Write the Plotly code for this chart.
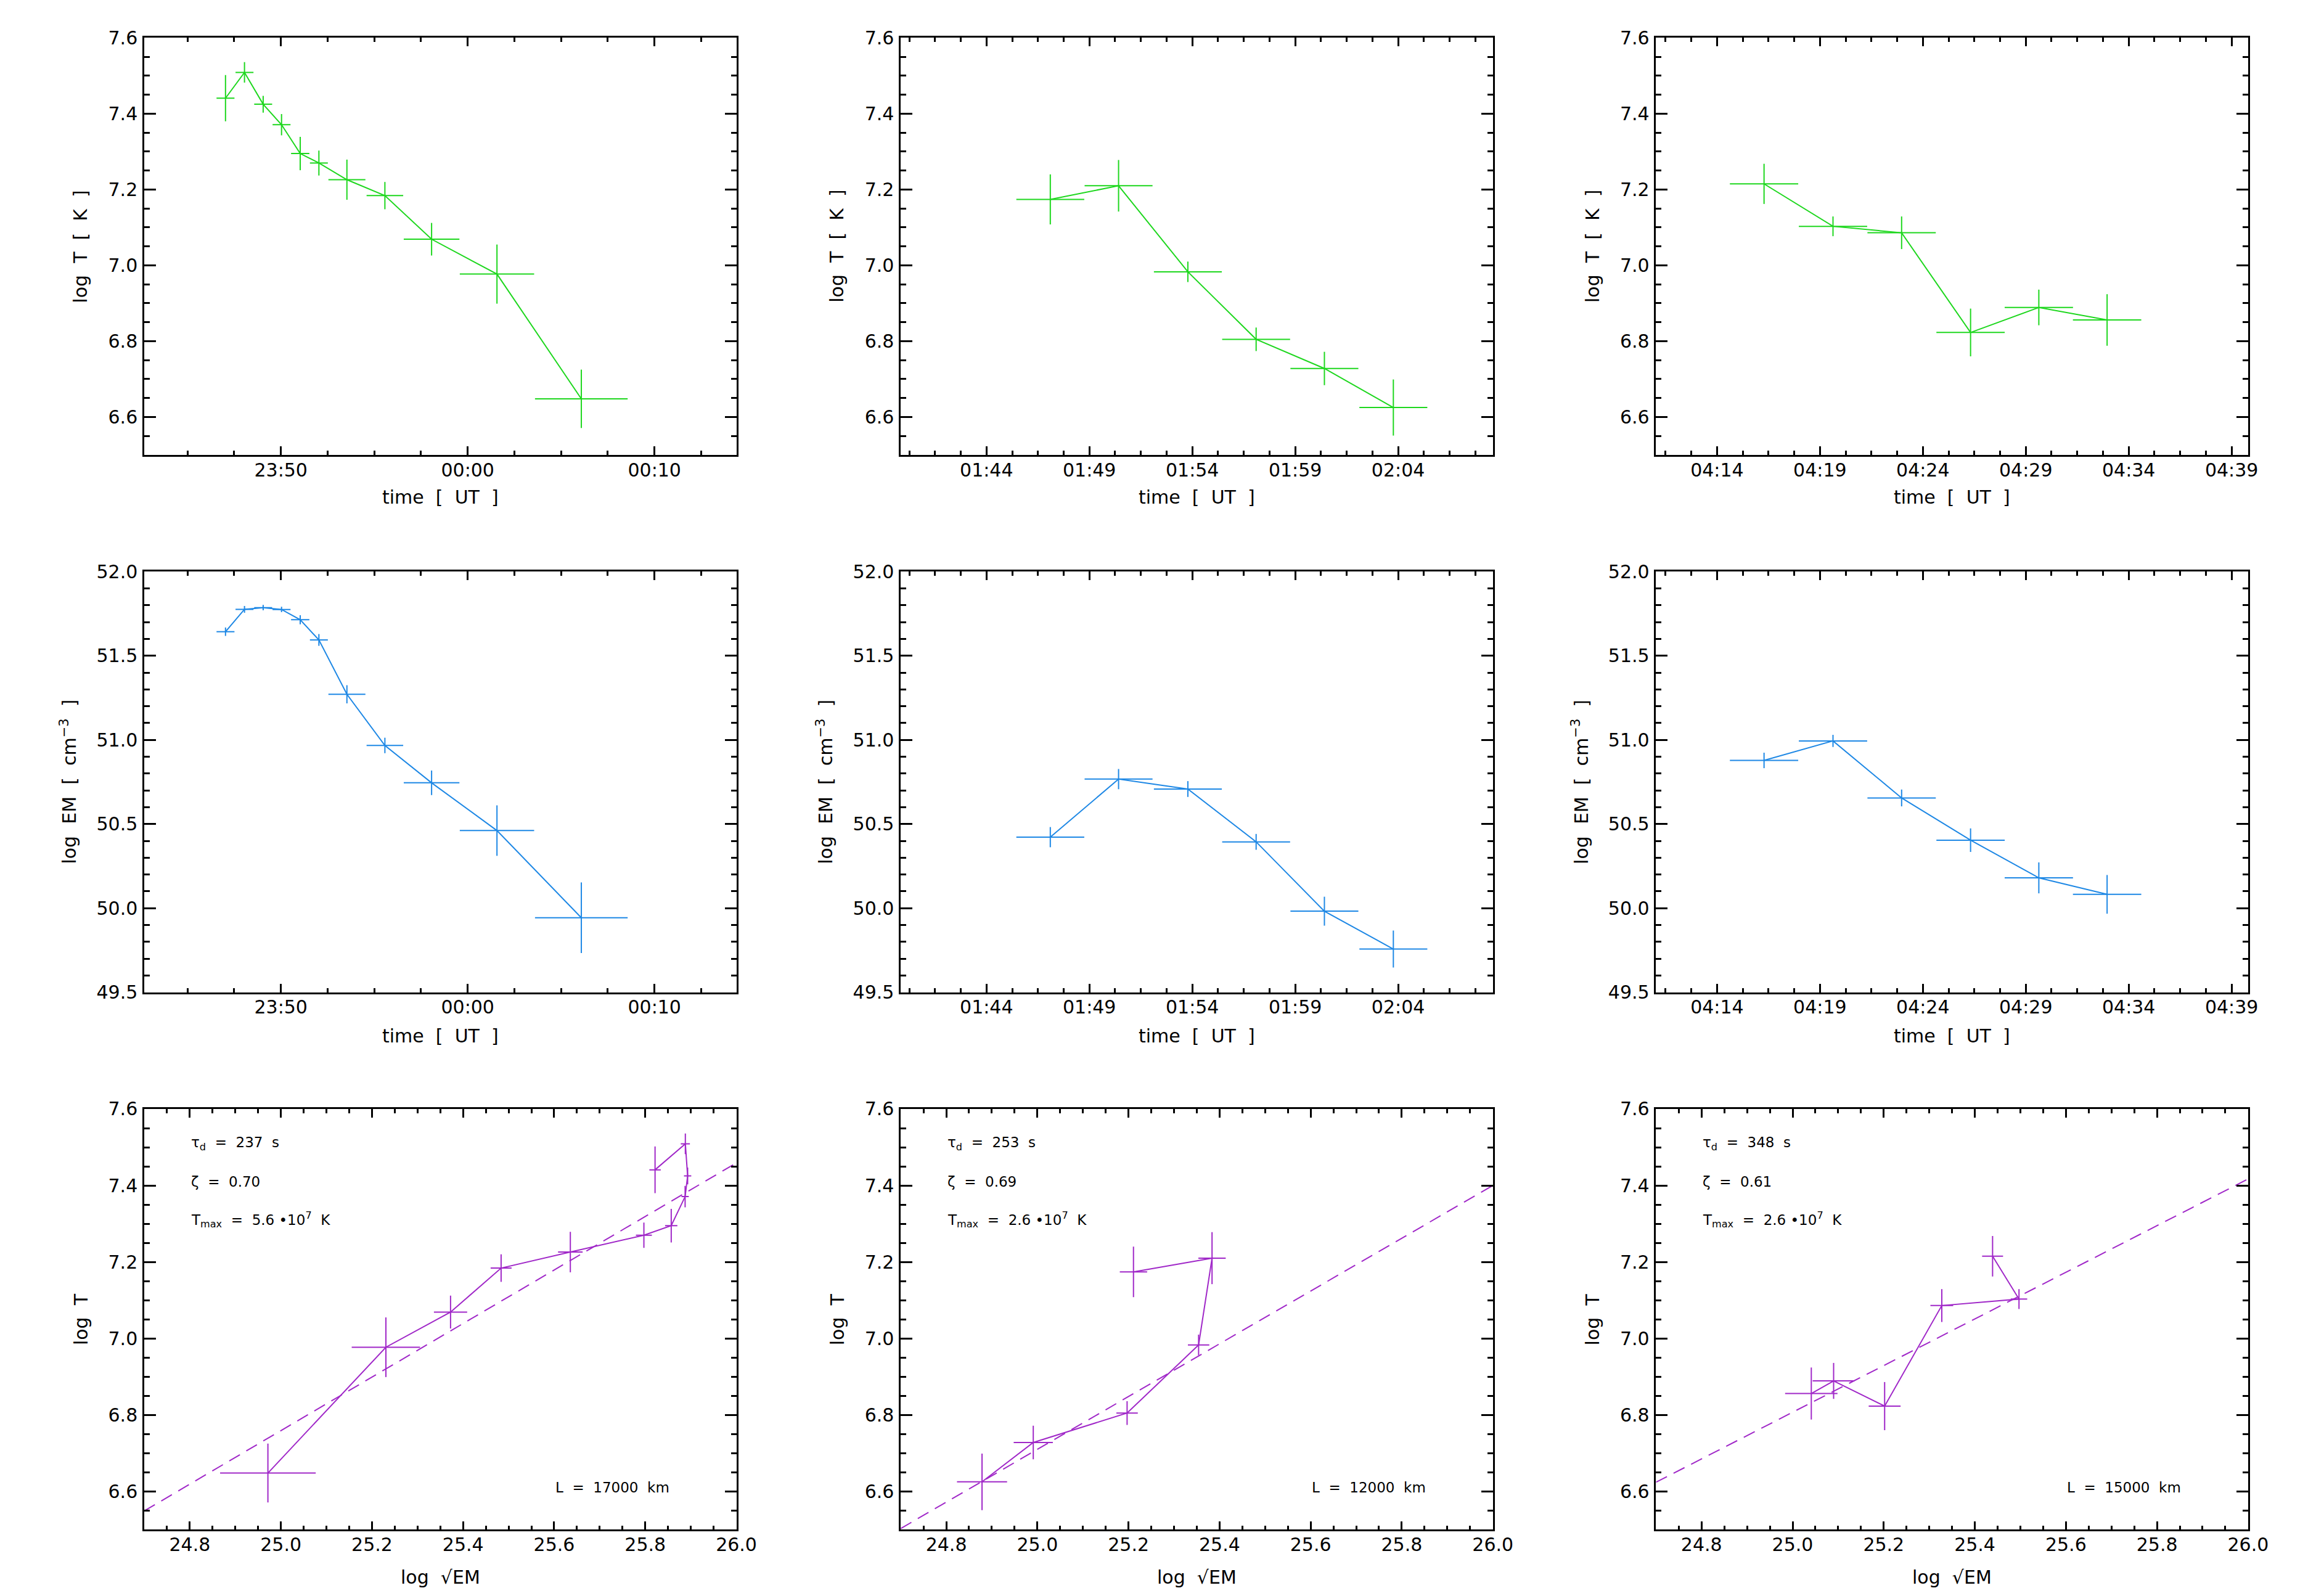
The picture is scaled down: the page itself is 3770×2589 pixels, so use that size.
import plotly.graph_objects as go

FONT = "DejaVu Sans"
GREEN = "rgb(30,215,30)"
BLUE = "rgb(30,136,229)"
PURPLE = "rgb(160,40,200)"

# ---------------- data ----------------
# Event 1
e1_time = ["23:47:02", "23:48:03", "23:49:03", "23:50:02", "23:51:02", "23:52:02",
           "23:53:32", "23:55:34", "23:58:04", "00:01:34", "00:06:05"]
e1_dt = [0.48, 0.48, 0.48, 0.48, 0.49, 0.48, 0.99, 0.98, 1.49, 1.99, 2.48]  # half bin, min
e1_T = [7.441, 7.509, 7.425, 7.371, 7.295, 7.270, 7.226, 7.184, 7.069, 6.977, 6.648]
e1_Terr = [0.061, 0.027, 0.022, 0.028, 0.044, 0.033, 0.053, 0.036, 0.043, 0.078, 0.077]
e1_EM = [51.643, 51.776, 51.786, 51.775, 51.714, 51.594, 51.271, 50.967, 50.745, 50.461, 49.943]
e1_EMerr = [0.025, 0.020, 0.016, 0.016, 0.027, 0.035, 0.054, 0.046, 0.073, 0.150, 0.210]

# Event 2
e2_time = ["01:47:06", "01:50:25", "01:53:47", "01:57:06", "02:00:25", "02:03:46"]
e2_dt = [1.65, 1.65, 1.65, 1.65, 1.65, 1.65]
e2_T = [7.174, 7.210, 6.983, 6.805, 6.728, 6.625]
e2_Terr = [0.066, 0.068, 0.027, 0.031, 0.044, 0.074]
e2_EM = [50.422, 50.767, 50.708, 50.394, 49.982, 49.757]
e2_EMerr = [0.060, 0.060, 0.047, 0.047, 0.086, 0.110]

# Event 3
e3_time = ["04:16:17", "04:19:38", "04:22:58", "04:26:19", "04:29:38", "04:32:57"]
e3_dt = [1.66, 1.66, 1.66, 1.66, 1.66, 1.66]
e3_T = [7.215, 7.103, 7.086, 6.823, 6.889, 6.856]
e3_Terr = [0.053, 0.026, 0.043, 0.063, 0.047, 0.068]
e3_EM = [50.878, 50.994, 50.655, 50.404, 50.180, 50.082]
e3_EMerr = [0.046, 0.036, 0.050, 0.070, 0.092, 0.115]

# fit results (slope zeta, intercept) and labels
zeta = [0.70, 0.69, 0.61]
intercept = [-10.741, -10.54, -8.443]
tau_d = ["237", "253", "348"]
tmax_txt = ["5.6", "2.6", "2.6"]
loop_len = ["17000", "12000", "15000"]

# time tick labels
e1_ticks = ["23:50", "00:00", "00:10"]
e2_ticks = ["01:44", "01:49", "01:54", "01:59", "02:04"]
e3_ticks = ["04:14", "04:19", "04:24", "04:29", "04:34", "04:39"]
time_ranges = [("23:42:41", "00:14:23"), ("01:39:50", "02:08:36"), ("04:11:02", "04:39:48")]


def tmin(s):
    p = [int(v) for v in s.split(":")]
    m = p[0] * 60 + p[1] + (p[2] / 60.0 if len(p) > 2 else 0.0)
    return m - 1440 if p[0] >= 12 else m


events = [
    dict(time=e1_time, dt=e1_dt, T=e1_T, Terr=e1_Terr, EM=e1_EM, EMerr=e1_EMerr, ticks=e1_ticks),
    dict(time=e2_time, dt=e2_dt, T=e2_T, Terr=e2_Terr, EM=e2_EM, EMerr=e2_EMerr, ticks=e2_ticks),
    dict(time=e3_time, dt=e3_dt, T=e3_T, Terr=e3_Terr, EM=e3_EM, EMerr=e3_EMerr, ticks=e3_ticks),
]

# ---------------- layout geometry ----------------
W, H = 3770, 2589
col_px = [(228, 1197), (1466, 2435), (2702, 3671)]
row_px = [(36, 722), (914, 1606), (1798, 2490)]
xtitle_off = [70, 72, 78]


def xdom(c):
    return [col_px[c][0] / W, col_px[c][1] / W]


def ydom(r):
    return [1 - row_px[r][1] / H, 1 - row_px[r][0] / H]


fig = go.Figure()
layout = dict(width=W, height=H, margin=dict(l=0, r=0, t=0, b=0),
              paper_bgcolor="white", plot_bgcolor="white", showlegend=False,
              font=dict(family=FONT, size=30, color="black"))
annotations = []


def axis_common(is_x):
    return dict(showline=True, linecolor="black", linewidth=2.5, mirror="allticks",
                ticks="inside", ticklen=14 if is_x else 19, tickwidth=2.5, tickcolor="black",
                showgrid=False, zeroline=False,
                tickfont=dict(family=FONT, size=30, color="black"),
                ticklabelstandoff=-4 if is_x else 2)


def sp(n=2):
    return "\u00a0" * n


for r in range(3):
    for c in range(3):
        k = r * 3 + c + 1
        xa = "x" if k == 1 else f"x{k}"
        ya = "y" if k == 1 else f"y{k}"
        ev = events[c]
        tx = [tmin(s) for s in ev["time"]]
        if r == 0:
            fig.add_trace(go.Scatter(
                x=tx, y=ev["T"], mode="lines", line=dict(color=GREEN, width=2),
                error_x=dict(type="data", array=ev["dt"], width=0, thickness=2, color=GREEN),
                error_y=dict(type="data", array=ev["Terr"], width=0, thickness=2, color=GREEN),
                xaxis=xa, yaxis=ya, hoverinfo="skip"))
        elif r == 1:
            fig.add_trace(go.Scatter(
                x=tx, y=ev["EM"], mode="lines", line=dict(color=BLUE, width=2),
                error_x=dict(type="data", array=ev["dt"], width=0, thickness=2, color=BLUE),
                error_y=dict(type="data", array=ev["EMerr"], width=0, thickness=2, color=BLUE),
                xaxis=xa, yaxis=ya, hoverinfo="skip"))
        else:
            sx = [v / 2.0 for v in ev["EM"]]
            sxe = [v / 2.0 for v in ev["EMerr"]]
            fx = [24.7, 26.0]
            fy = [zeta[c] * v + intercept[c] for v in fx]
            fig.add_trace(go.Scatter(
                x=fx, y=fy, mode="lines", line=dict(color=PURPLE, width=2, dash="20px,12px"),
                xaxis=xa, yaxis=ya, hoverinfo="skip"))
            fig.add_trace(go.Scatter(
                x=sx, y=ev["T"], mode="lines", line=dict(color=PURPLE, width=2),
                error_x=dict(type="data", array=sxe, width=0, thickness=2, color=PURPLE),
                error_y=dict(type="data", array=ev["Terr"], width=0, thickness=2, color=PURPLE),
                xaxis=xa, yaxis=ya, hoverinfo="skip"))

        xkey = "xaxis" if k == 1 else f"xaxis{k}"
        ykey = "yaxis" if k == 1 else f"yaxis{k}"
        xax = axis_common(True)
        yax = axis_common(False)
        xax.update(domain=xdom(c), anchor=ya)
        yax.update(domain=ydom(r), anchor=xa)
        if r < 2:
            t0, t1 = time_ranges[c]
            xax.update(range=[tmin(t0), tmin(t1)], tickmode="array",
                       tickvals=[tmin(s) for s in ev["ticks"]], ticktext=ev["ticks"],
                       minor=dict(ticks="inside", ticklen=7, tickwidth=2.5, tickcolor="black",
                                  dtick=2.5 if c == 0 else 1.25, tick0=0 if c == 0 else tmin(ev["ticks"][0]),
                                  showgrid=False))
        else:
            xax.update(range=[24.7, 26.0], tickmode="linear", tick0=0, dtick=0.2, tickformat=".1f",
                       minor=dict(ticks="inside", ticklen=7, tickwidth=2.5, tickcolor="black",
                                  dtick=0.05, tick0=0, showgrid=False))
        if r == 1:
            yax.update(range=[49.5, 52.0], tickmode="linear", tick0=0, dtick=0.5, tickformat=".1f",
                       minor=dict(ticks="inside", ticklen=9, tickwidth=2.5, tickcolor="black",
                                  dtick=0.1, tick0=0, showgrid=False))
        else:
            yax.update(range=[6.5, 7.6], tickmode="linear", tick0=0, dtick=0.2, tickformat=".1f",
                       minor=dict(ticks="inside", ticklen=9, tickwidth=2.5, tickcolor="black",
                                  dtick=0.05, tick0=0, showgrid=False))
        layout[xkey] = xax
        layout[ykey] = yax

        # axis titles as annotations
        cx = (col_px[c][0] + col_px[c][1]) / 2 / W
        cy = 1 - (row_px[r][0] + row_px[r][1]) / 2 / H
        xt_y = 1 - (row_px[r][1] + xtitle_off[r]) / H
        if r < 2:
            xtitle = "time" + sp() + "[" + sp() + "UT" + sp() + "]"
        else:
            xtitle = "log" + sp() + "\u221aEM"
        annotations.append(dict(xref="paper", yref="paper", x=cx, y=xt_y, text=xtitle,
                                showarrow=False, xanchor="center", yanchor="middle",
                                font=dict(family=FONT, size=30, color="black")))
        if r == 0:
            ytitle = "log" + sp() + "T" + sp() + "[" + sp() + "K" + sp() + "]"
            off = 104
        elif r == 1:
            ytitle = "log" + sp() + "EM" + sp() + "[" + sp() + "cm<sup>\u22123</sup>" + sp() + "]"
            off = 124
        else:
            ytitle = "log" + sp() + "T"
            off = 104
        annotations.append(dict(xref="paper", yref="paper", x=(col_px[c][0] - off) / W, y=cy,
                                text=ytitle, textangle=-90, showarrow=False,
                                xanchor="center", yanchor="middle",
                                font=dict(family=FONT, size=30, color="black")))

        if r == 2:
            afont = dict(family=FONT, size=23, color="black")
            texts = [
                (7.51, "\u03c4<sub>d</sub>" + sp() + "=" + sp() + tau_d[c] + sp() + "s"),
                (7.41, "\u03b6" + sp() + "=" + sp() + f"{zeta[c]:.2f}"),
                (7.31, "T<sub>max</sub>" + sp() + "=" + sp() + tmax_txt[c] + sp(1) + "\u2022" + "10<sup>7</sup>" + sp() + "K"),
            ]
            for yy, tt in texts:
                annotations.append(dict(xref=xa, yref=ya, x=24.8, y=yy, text=tt, showarrow=False,
                                        xanchor="left", yanchor="middle", font=afont))
            annotations.append(dict(xref=xa, yref=ya, x=25.6, y=6.61,
                                    text="L" + sp() + "=" + sp() + loop_len[c] + sp() + "km",
                                    showarrow=False, xanchor="left", yanchor="middle", font=afont))

layout["annotations"] = annotations
fig.update_layout(**layout)
fig.write_html("out.html")
